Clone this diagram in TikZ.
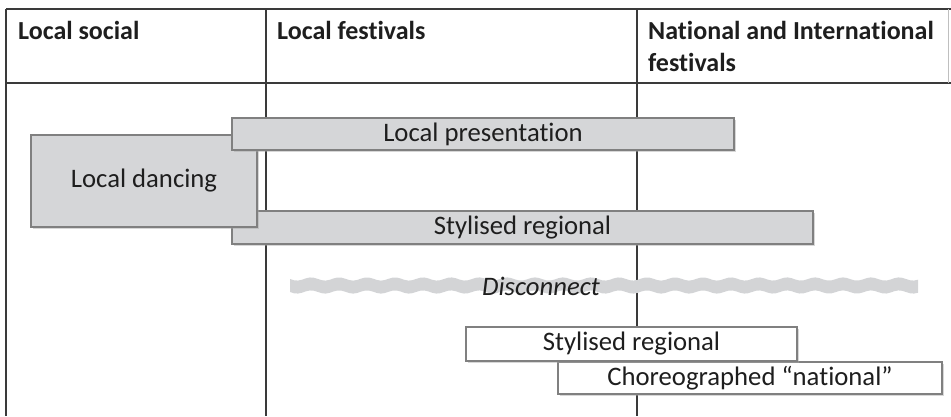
\documentclass[tikz,border=0pt]{standalone}
\usepackage{fontspec}
\setmainfont{Carlito}[Ligatures=NoCommon]
\usetikzlibrary{shadows}
\definecolor{boxgrey}{HTML}{D5D6D8}
\definecolor{boxline}{HTML}{808080}
\definecolor{txt}{HTML}{1E1E1E}
\definecolor{rule}{HTML}{3A3A3A}
\definecolor{band}{HTML}{D3D4D6}
\tikzset{
  gridline/.style={draw=rule, line width=1.3pt},
  boxbase/.style={draw=boxline, line width=1.3pt, inner sep=0pt, text=txt,
    font=\fontsize{26.7}{30}\selectfont,
    drop shadow={shadow xshift=2pt, shadow yshift=-2pt, fill=black!35, opacity=0.45}},
  greybox/.style={boxbase, fill=boxgrey},
  whitebox/.style={boxbase, fill=white},
  head/.style={anchor=base west, inner sep=0pt, text=txt, font=\bfseries\fontsize{26}{32}\selectfont, align=left},
}
\begin{document}
\begin{tikzpicture}[x=1pt,y=-1pt]
\useasboundingbox (0,0) rectangle (951,416);
% table
\draw[gridline, line width=1.6pt] (6,9) -- (951,9);
\draw[gridline, line width=1.8pt] (6,83) -- (951,83);
\draw[gridline] (6,9) -- (6,416);
\draw[gridline] (266,9) -- (266,416);
\draw[gridline] (637,9) -- (637,416);
\draw[draw=black!25, line width=1pt] (948,9) -- (948,83);
% headers
\node[head] (h1) at (18,39) {Local social};
\node[head] (h2) at (277,39) {Local festivals};
\node[head] (h3) at (648,71) {National and International\\festivals};
% grey boxes
\node[greybox, minimum width=581pt, minimum height=33pt] (sr1) at (522.5,227.5) {Stylised regional};
\node[greybox, minimum width=226pt, minimum height=92pt] (ld) at (144,181) {Local dancing};
\node[greybox, minimum width=502pt, minimum height=32pt] (lp) at (483,134) {Local presentation};
% disconnect band
\fill[band] plot[domain=290:918, samples=160] (\x, {279+1.6*sin((\x-290)/28*360)})
  -- plot[domain=918:290, samples=160] (\x, {292+1.6*sin((\x-290)/28*360)}) -- cycle;
\node[inner sep=0pt, text=txt, font=\itshape\fontsize{26.7}{30}\selectfont] (dc) at (541,286) {Disconnect};
% white boxes
\node[whitebox, minimum width=384pt, minimum height=32pt] (ch) at (750,378) {Choreographed “national”};
\node[whitebox, minimum width=331pt, minimum height=34pt] (sr2) at (631.5,344) {Stylised regional};
\end{tikzpicture}
\end{document}
